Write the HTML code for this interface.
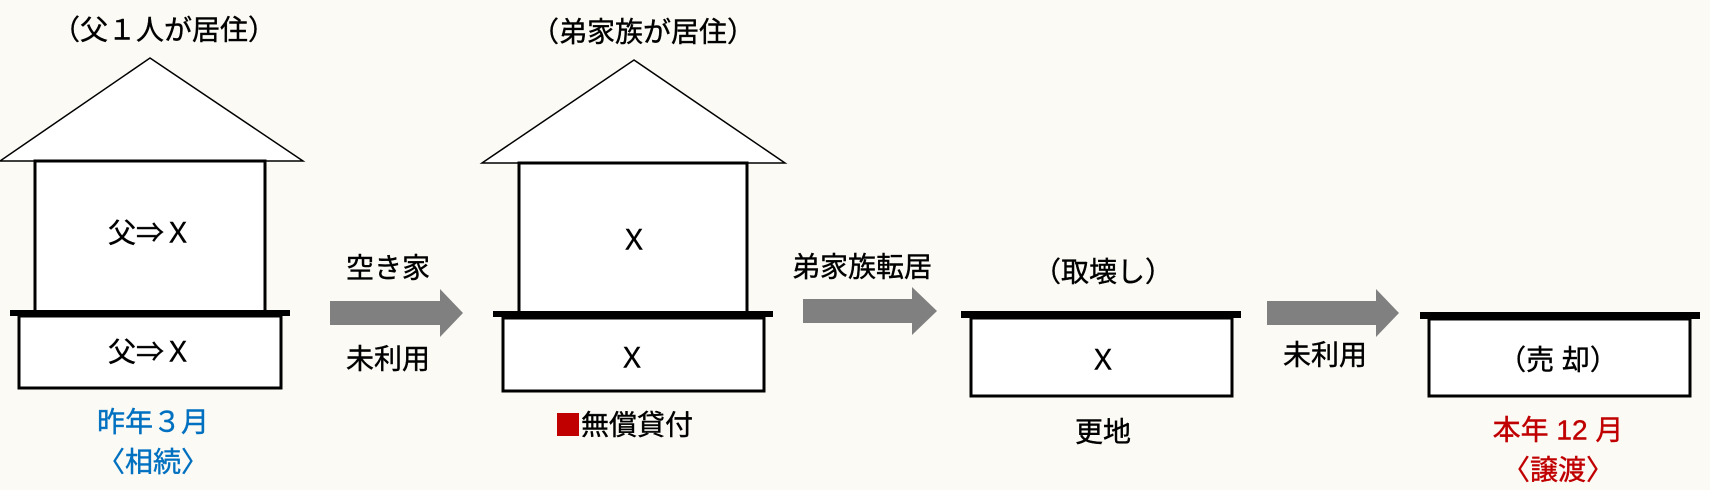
<!DOCTYPE html>
<html><head><meta charset="utf-8"><style>
html,body{margin:0;padding:0;background:#fbfaf5;}
svg{display:block}
text{font-family:"Liberation Sans","Noto Sans CJK JP",sans-serif;font-size:28px;text-anchor:middle;dominant-baseline:central;fill:#000;stroke:#000;stroke-width:0.4}
</style></head><body>
<svg width="1710" height="490" viewBox="0 0 1710 490" xmlns="http://www.w3.org/2000/svg">
<rect width="1710" height="490" fill="#fbfaf5"/>
<g stroke="#000" fill="#fff">
<polygon points="150,58 303,161 0,161" stroke-width="1.5"/>
<rect x="35" y="161" width="230" height="151" stroke-width="3"/>
<rect x="19" y="316" width="262" height="72" stroke-width="3"/>
<rect x="10" y="310" width="280" height="6" fill="#000" stroke="none"/>
<polygon points="634,60 785,163 482,163" stroke-width="1.5"/>
<rect x="519" y="163" width="228" height="150" stroke-width="3"/>
<rect x="503" y="318" width="261" height="73" stroke-width="3"/>
<rect x="493" y="311" width="280" height="6" fill="#000" stroke="none"/>
<rect x="971" y="318" width="261" height="78" stroke-width="3"/>
<rect x="961" y="311" width="280" height="7" fill="#000" stroke="none"/>
<rect x="1429" y="319" width="261" height="77" stroke-width="3"/>
<rect x="1420" y="312" width="280" height="7" fill="#000" stroke="none"/>
</g>
<g fill="#808080">
<polygon points="330,301 440,301 440,289 463,313 440,337 440,325 330,325"/>
<polygon points="803,299 912,299 912,287 937,311 912,335 912,323 803,323"/>
<polygon points="1267,301 1376,301 1376,289 1399,313 1376,337 1376,325 1267,325"/>
</g>
<rect x="557" y="413" width="22" height="23" fill="#c00000"/>
<text x="164" y="30">（父１人が居住）</text>
<text x="150" y="233">父⇒Ｘ</text>
<text x="150" y="352">父⇒Ｘ</text>
<text x="153" y="422" style="fill:#0070c0;stroke:#0070c0">昨年３月</text>
<text x="153" y="462" style="fill:#0070c0;stroke:#0070c0">〈相続〉</text>
<text x="388" y="268">空き家</text>
<text x="388" y="359">未利用</text>
<text x="643" y="32">（弟家族が居住）</text>
<text x="634" y="240">Ｘ</text>
<text x="632" y="358">Ｘ</text>
<text x="581" y="425" style="text-anchor:start">無償貸付</text>
<text x="862" y="267">弟家族転居</text>
<text x="1103" y="272">（取壊し）</text>
<text x="1103" y="360">Ｘ</text>
<text x="1103" y="432">更地</text>
<text x="1325" y="355">未利用</text>
<text x="1558" y="360">（売 却）</text>
<text x="1558" y="430" style="fill:#c00000;stroke:#c00000">本年 12 月</text>
<text x="1558" y="470" style="fill:#c00000;stroke:#c00000">〈譲渡〉</text>
</svg>
</body></html>
